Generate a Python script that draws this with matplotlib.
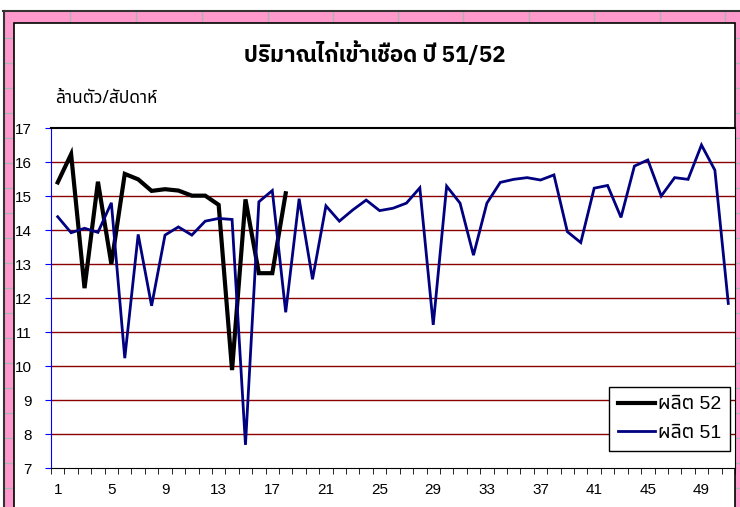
import numpy as np
import matplotlib
matplotlib.use("Agg")
import matplotlib.pyplot as plt
from matplotlib.patches import Rectangle
from matplotlib.lines import Line2D

# ข้อมูล (ล้านตัว/สัปดาห์)
weeks = list(range(1, 52))
prod_52 = [15.4, 16.23, 12.29, 15.42, 13.0, 15.65, 15.49, 15.15, 15.2, 15.16,
           15.01, 15.01, 14.74, 9.88, 14.9, 12.73, 12.73, 15.08]
prod_51 = [14.39, 13.92, 14.05, 13.93, 14.8, 10.23, 13.87, 11.77, 13.85, 14.09,
           13.85, 14.26, 14.34, 14.31, 7.68, 14.83, 15.16, 11.58, 14.92, 12.55,
           14.71, 14.26, 14.59, 14.88, 14.57, 14.64, 14.79, 15.24, 11.21, 15.29,
           14.79, 13.26, 14.79, 15.4, 15.49, 15.54, 15.47, 15.62, 13.95, 13.63,
           15.23, 15.31, 14.37, 15.88, 16.06, 15.0, 15.54, 15.49, 16.5, 15.76,
           11.84]
title = "ปริมาณไก่เข้าเชือด ปี 51/52"
unit = "ล้านตัว/สัปดาห์"
labels = ["ผลิต 52", "ผลิต 51"]

plt.rcParams["font.family"] = ["Liberation Sans", "Noto Sans Thai", "DejaVu Sans"]
thai_fam = ["Noto Sans Thai", "Liberation Sans", "DejaVu Sans"]
title_fam = ["IBM Plex Sans Thai", "Noto Sans Thai", "DejaVu Sans"]

W, H = 740, 507
fig = plt.figure(figsize=(W / 100, H / 100), dpi=100, facecolor="white")

def px_rect(x0, y0, x1, y1, **kw):
    fig.add_artist(Rectangle((x0 / W, 1 - y1 / H), (x1 - x0) / W, (y1 - y0) / H,
                             transform=fig.transFigure, zorder=-5, **kw))

def px_line(xs, ys, **kw):
    fig.add_artist(Line2D([x / W for x in xs], [1 - y / H for y in ys],
                          transform=fig.transFigure, zorder=-4, **kw))

# พื้นชมพูแบบตาราง excel
px_rect(4, 11, 740, 507, facecolor="#ff99cc", edgecolor="none")
for gx in [70, 136, 202, 268, 333, 398, 463, 529, 594, 660, 725]:
    px_line([gx, gx], [11, 23], color="#b0b0b0", lw=1)
for gy in [38, 63, 88, 113, 138, 163, 188, 213, 238, 263, 288, 313, 338, 363,
           388, 413, 438, 463, 488]:
    px_line([4, 13], [gy, gy], color="#b0b0b0", lw=1)
    px_line([735, 740], [gy, gy], color="#b0b0b0", lw=1)
px_line([3.5, 3.5], [11, 507], color="#333333", lw=1.5)
px_line([3, 740], [11, 11], color="#333333", lw=1.5)
fig.add_artist(Rectangle((13.5 / W, -0.05), 721 / W, 1.05 - 23.5 / H,
                         transform=fig.transFigure, zorder=-3,
                         facecolor="white", edgecolor="black", lw=1.2))

ax = fig.add_axes([51 / W, 1 - 468 / H, 684 / W, 340 / H])
ax.set_facecolor("white")
ax.plot(weeks[:len(prod_52)], prod_52, color="black", lw=3, label=labels[0],
        solid_joinstyle="miter")
ax.plot(weeks, prod_51, color="#000080", lw=2, label=labels[1],
        solid_joinstyle="miter")

ax.set_xlim(0.5, 51.5)
ax.set_ylim(7, 17)
ax.set_yticks(range(7, 18))
ax.set_xticks(weeks[::4])
ax.set_xticks(np.arange(0.5, 52, 1), minor=True)
ax.tick_params(axis="x", which="major", length=0, pad=11, labelsize=11)
ax.tick_params(axis="x", which="minor", length=4, direction="out", color="black")
ax.tick_params(axis="y", length=4, color="blue", pad=10, labelsize=11)
for y in range(8, 17):
    ax.axhline(y, color="#8b0000", lw=1, zorder=0)
ax.spines["left"].set_color("blue")
for s in ["top", "right", "bottom"]:
    ax.spines[s].set_color("black")
ax.spines["top"].set_linewidth(1.5)

leg = ax.legend(loc="lower right", bbox_to_anchor=(0.9985, 0.04),
                prop={"family": ["Liberation Sans", "Noto Sans Thai"], "size": 14},
                frameon=True, fancybox=False, borderpad=0.45, handlelength=1.9,
                handletextpad=0.15, labelspacing=0.55, framealpha=1,
                borderaxespad=0.2)
leg.get_frame().set_edgecolor("black")
leg.get_frame().set_linewidth(1)

fig.text(375 / W, 1 - 54 / H, title, ha="center", va="center",
         fontsize=16, fontweight="bold", family=title_fam)
fig.text(55 / W, 1 - 98 / H, unit, ha="left", va="center", fontsize=12.5,
         family=thai_fam)

fig.savefig("out.png", dpi=100)
